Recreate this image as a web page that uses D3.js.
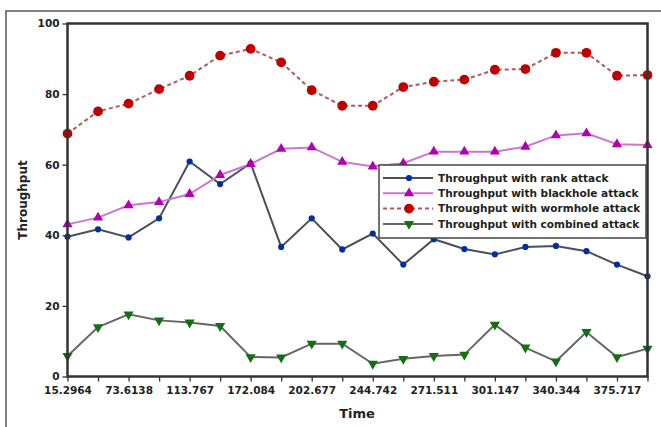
<!DOCTYPE html>
<html><head><meta charset="utf-8">
<script src="https://cdn.jsdelivr.net/npm/d3@7"></script>
<style>body{margin:0;background:#fff}svg{display:block}text{font-family:"DejaVu Sans",sans-serif}</style>
</head><body><svg id="c" width="661" height="427"></svg>
<script>
const xLabels = ["15.2964","73.6138","113.767","172.084","202.677","244.742","271.511","301.147","340.344","375.717"];
const yTicks = [0,20,40,60,80,100];
const rank = [39.6,41.7,39.4,44.8,60.9,54.5,60.4,36.7,44.8,36.0,40.5,31.7,38.9,36.1,34.6,36.7,37.0,35.5,31.7,28.4];
const blackhole = [43.1,45.0,48.5,49.4,51.7,57.1,60.2,64.5,64.9,60.8,59.5,60.4,63.7,63.7,63.7,65.1,68.3,68.9,65.8,65.6];
const wormhole = [68.8,75.1,77.3,81.4,85.2,90.9,92.8,89.0,81.1,76.7,76.7,82.0,83.5,84.1,86.9,87.1,91.7,91.7,85.2,85.4];
const combined = [5.8,14.0,17.6,15.9,15.3,14.3,5.5,5.4,9.3,9.3,3.6,5.0,5.8,6.2,14.7,8.2,4.3,12.6,5.5,7.9];
const seriesNames = ["Throughput with rank attack","Throughput with blackhole attack","Throughput with wormhole attack","Throughput with combined attack"];

const svg = d3.select("#c");
const L=67.5, R=647.5, T=23.5, B=376.5;
const idx = d3.range(rank.length);
const x = d3.scaleLinear().domain([0, rank.length-1]).range([L, R]);
const y = d3.scaleLinear().domain([0,100]).range([B, T]);

// outer frame
svg.append("path").attr("d",`M6,427 V11 H661`).attr("fill","none").attr("stroke","#555").attr("stroke-width",1.5);

// axes ticks
const xa = svg.append("g").attr("transform",`translate(0,${B})`)
  .call(d3.axisBottom(x).tickValues(idx).tickSize(5).tickFormat(i => i%2===0 ? xLabels[i/2] : ""));
xa.select(".domain").remove();
xa.selectAll("line").attr("stroke","#333").attr("stroke-width",1.3);
xa.selectAll("text").attr("font-size",10.5).attr("fill","#222").attr("dy","0.95em").attr("font-family","'Liberation Sans Narrow','DejaVu Sans Condensed',sans-serif").attr("font-weight","bold");

const ya = svg.append("g").attr("transform",`translate(${L},0)`)
  .call(d3.axisLeft(y).tickValues(yTicks).tickSize(5));
ya.select(".domain").remove();
ya.selectAll("line").attr("stroke","#333").attr("stroke-width",1.3);
ya.selectAll("text").attr("font-size",10.5).attr("fill","#222").attr("font-family","'DejaVu Sans Condensed',sans-serif").attr("font-weight","bold");

// labels
svg.append("text").attr("x",357).attr("y",418).attr("text-anchor","middle").attr("font-size",13).attr("font-weight","bold").attr("fill","#222").text("Time");
svg.append("text").attr("transform","translate(27,200) rotate(-90)").attr("text-anchor","middle").attr("font-size",12).attr("font-weight","bold").attr("fill","#222").text("Throughput");

const line = d3.line().x((d,i)=>x(i)).y(d=>y(d));
const cfg = [
  {data:rank, stroke:"#4a4f5c", dash:null, sym:d3.symbolCircle, size:30, fill:"#0030a0"},
  {data:blackhole, stroke:"#cc77cc", dash:null, sym:d3.symbolTriangle, size:45, fill:"#b000b0"},
  {data:wormhole, stroke:"#b05a5a", dash:"4,3", sym:d3.symbolCircle, size:75, fill:"#c00000"},
  {data:combined, stroke:"#666", dash:null, sym:d3.symbolTriangle, size:45, fill:"#127012", rot:180}
];
// draw order: combined, rank, blackhole, wormhole
[3,0,1,2].forEach(k=>{
  const c = cfg[k];
  svg.append("path").datum(c.data).attr("d",line).attr("fill","none").attr("stroke",c.stroke).attr("stroke-width",2).attr("stroke-dasharray",c.dash);
  svg.append("g").selectAll("path").data(c.data).join("path")
    .attr("d",d3.symbol().type(c.sym).size(c.size))
    .attr("transform",(d,i)=>`translate(${x(i)},${y(d)}) rotate(${c.rot||0})`)
    .attr("fill",c.fill);
});

// plot border
svg.append("rect").attr("x",L).attr("y",T).attr("width",R-L).attr("height",B-T).attr("fill","none").attr("stroke","#333").attr("stroke-width",2.5);

// legend
const lg = svg.append("g");
lg.append("rect").attr("x",379).attr("y",165).attr("width",267).attr("height",73).attr("fill","#fff").attr("stroke","#444").attr("stroke-width",1.5);
cfg.forEach((c,i)=>{
  const yy = 178 + i*15.3;
  lg.append("line").attr("x1",383).attr("x2",433).attr("y1",yy).attr("y2",yy).attr("stroke",c.stroke).attr("stroke-width",2).attr("stroke-dasharray",c.dash);
  lg.append("path").attr("d",d3.symbol().type(c.sym).size(c.size)).attr("transform",`translate(409,${yy}) rotate(${c.rot||0})`).attr("fill",c.fill);
  lg.append("text").attr("x",438).attr("y",yy).attr("dy","0.35em").attr("font-size",10.5).attr("fill","#222").attr("font-family","'DejaVu Sans Condensed',sans-serif").attr("font-weight","bold").text(seriesNames[i]);
});
</script></body></html>
